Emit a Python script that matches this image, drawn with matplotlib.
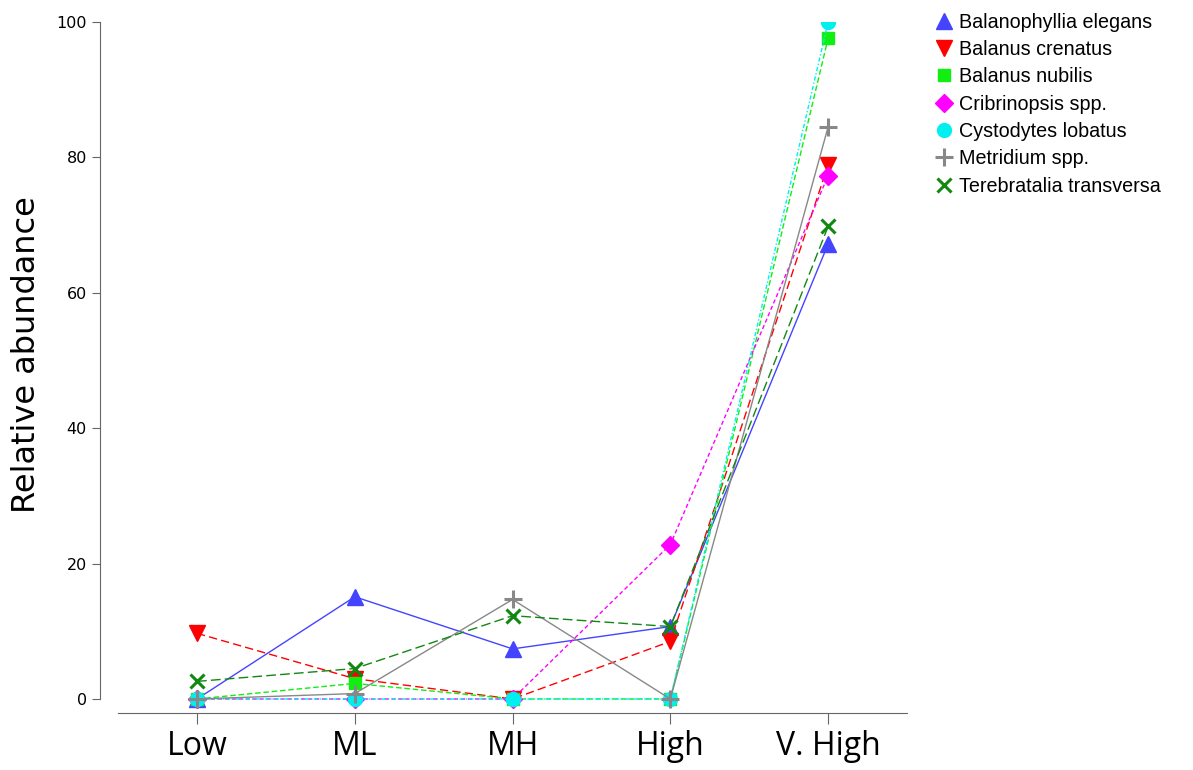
import numpy as np
import matplotlib.pyplot as plt
from matplotlib.lines import Line2D

categories = ['Low', 'ML', 'MH', 'High', 'V. High']

species = ['Balanophyllia elegans', 'Balanus crenatus', 'Balanus nubilis',
           'Cribrinopsis spp.', 'Cystodytes lobatus', 'Metridium spp.',
           'Terebratalia transversa']

balanophyllia = [0, 15.1, 7.4, 10.7, 67.2]
crenatus = [9.7, 3.0, 0, 8.5, 78.9]
nubilis = [0, 2.3, 0, 0, 97.6]
cribrinopsis = [0, 0, 0, 22.8, 77.3]
cystodytes = [0, 0, 0, 0, 100]
metridium = [0, 0.8, 14.7, 0, 84.5]
terebratalia = [2.6, 4.5, 12.3, 10.7, 69.8]

series = [balanophyllia, crenatus, nubilis, cribrinopsis, cystodytes, metridium, terebratalia]
colors = ['#4444ff', '#ff0000', '#11ee11', '#ff00ff', '#00f0f0', '#888888', '#118811']
markers = ['^', 'v', 's', 'D', 'o', '+', 'x']
msizes = [11, 11, 9, 9, 10, 13, 10]
styles = ['-', (0, (6, 3)), (0, (4, 2)), (0, (3, 2)), (0, (3, 1.5, 1, 1.5)), '-', (0, (7, 3))]

fig = plt.figure(figsize=(11.93, 7.7), dpi=100)
ax = fig.add_axes([100 / 1193, 57 / 770, 807 / 1193, 691 / 770])

x = np.arange(len(categories))
handles = []
for vals, c, m, ms, ls, name in zip(series, colors, markers, msizes, styles, species):
    mew = 2.2 if m in ('+', 'x') else 1
    ax.plot(x, vals, color=c, linestyle=ls, linewidth=1, marker=m, markersize=ms,
            markeredgewidth=mew, markeredgecolor=c, markerfacecolor=c)
    handles.append(Line2D([], [], color=c, marker=m, linestyle='none', markersize=ms,
                          markeredgewidth=mew, label=name))

ax.set_xlim(-0.615, 4.5)
ax.set_ylim(-2.07, 100)
for s in ['top', 'right']:
    ax.spines[s].set_visible(False)
ax.spines['left'].set_bounds(0, 100)
ax.spines['bottom'].set_bounds(-0.5, 4.5)
ax.spines['left'].set_color('#666666')
ax.spines['bottom'].set_color('#666666')

ax.set_xticks(x)
ax.set_xticklabels(categories, fontsize=23, family='Open Sans')
ax.set_yticks([0, 20, 40, 60, 80, 100])
ax.tick_params(axis='y', labelsize=11.5, colors='#666666', labelcolor='black', length=6)
ax.tick_params(axis='x', colors='#666666', labelcolor='black', length=8, pad=4)

ax.set_ylabel('Relative abundance', fontsize=23, family='DejaVu Sans')
ax.yaxis.set_label_coords(-0.072, 0.518)

fig.legend(handles=handles, loc='upper left', bbox_to_anchor=(918 / 1193, 1 + 1 / 770),
           frameon=False, prop={'family': 'Liberation Sans', 'size': 14.2},
           handletextpad=0.2, labelspacing=0.42, handlelength=1.2, borderpad=0.2)

fig.savefig('out.png', dpi=100)
